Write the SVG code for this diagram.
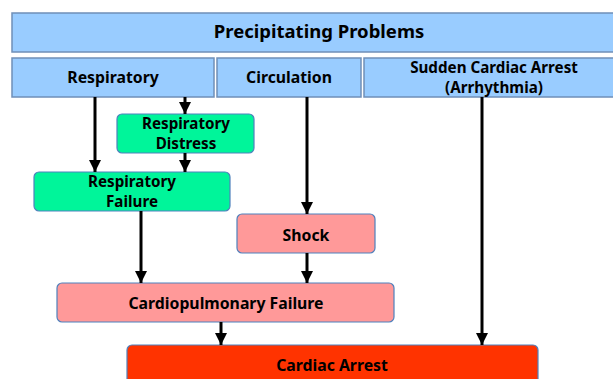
<svg xmlns="http://www.w3.org/2000/svg" width="613" height="379" viewBox="0 0 613 379">
<defs>
<marker id="ah" markerWidth="4" markerHeight="4" refX="4" refY="2" orient="auto" markerUnits="strokeWidth">
<path d="M0,0 L4,2 L0,4 Z" fill="#000"/>
</marker>
<style>
.hdr{fill:#99CCFF;stroke:#6F8FB8;stroke-width:1.5}
.grn{fill:#00F59A;stroke:#4F81BD;stroke-width:1.2}
.pnk{fill:#FF9999;stroke:#4F81BD;stroke-width:1.2}
.red{fill:#FF3300;stroke:#4F81BD;stroke-width:1.2}
text{font-family:"Noto Sans","Liberation Sans",sans-serif;font-weight:bold;fill:#000;text-anchor:middle}
.t{font-size:18.5px}
.s{font-size:15.8px}
.m{font-size:15.2px}
.c line{stroke:#000;stroke-width:3;marker-end:url(#ah)}
</style>
</defs>
<rect width="613" height="379" fill="#fff"/>
<g id="precipitating-problems">
<rect class="hdr" x="12" y="13" width="614" height="39"/>
<text class="t" x="319" y="38">Precipitating Problems</text>
</g>
<g id="respiratory">
<rect class="hdr" x="12" y="58" width="202" height="39"/>
<text class="s" x="113" y="83">Respiratory</text>
</g>
<g id="circulation">
<rect class="hdr" x="217" y="58" width="144" height="39"/>
<text class="s" x="289" y="83">Circulation</text>
</g>
<g id="sudden-cardiac-arrest">
<rect class="hdr" x="364" y="58" width="262" height="39"/>
<text class="m" x="494" y="73">Sudden Cardiac Arrest</text>
<text class="m" x="494" y="93">(Arrhythmia)</text>
</g>
<g id="respiratory-distress">
<rect class="grn" x="117" y="114" width="137" height="39" rx="5"/>
<text class="m" x="186" y="129">Respiratory</text>
<text class="m" x="186" y="149">Distress</text>
</g>
<g id="respiratory-failure">
<rect class="grn" x="34" y="172" width="196" height="39" rx="5"/>
<text class="m" x="132" y="187">Respiratory</text>
<text class="m" x="132" y="207">Failure</text>
</g>
<g id="shock">
<rect class="pnk" x="237" y="214" width="138" height="39" rx="5"/>
<text class="s" x="306" y="241">Shock</text>
</g>
<g id="cardiopulmonary-failure">
<rect class="pnk" x="57" y="283" width="337" height="39" rx="5"/>
<text class="s" x="226" y="309">Cardiopulmonary Failure</text>
</g>
<g id="cardiac-arrest">
<rect class="red" x="127" y="345" width="411" height="44" rx="5"/>
<text class="s" x="332" y="371">Cardiac Arrest</text>
</g>
<g id="connectors" class="c">
<line x1="95" y1="97" x2="95" y2="172"/>
<line x1="185" y1="97" x2="185" y2="114"/>
<line x1="185" y1="153" x2="185" y2="172"/>
<line x1="307" y1="97" x2="307" y2="214"/>
<line x1="141" y1="211" x2="141" y2="283"/>
<line x1="307" y1="253" x2="307" y2="283"/>
<line x1="221" y1="322" x2="221" y2="345"/>
<line x1="482" y1="97" x2="482" y2="345"/>
</g>
</svg>
